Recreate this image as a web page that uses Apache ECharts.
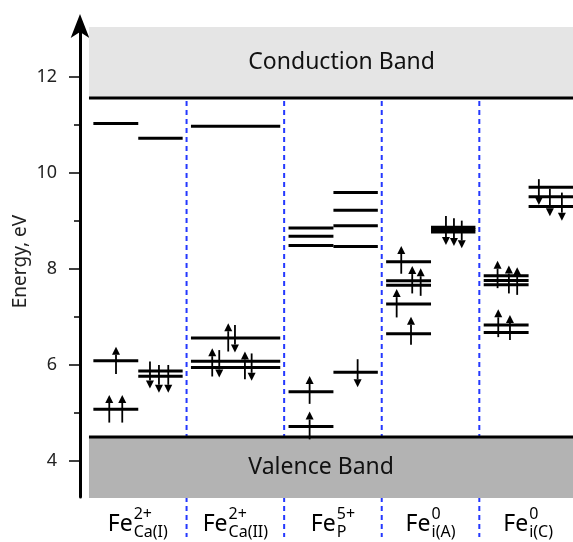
<!DOCTYPE html>
<html><head><meta charset="utf-8">
<script src="https://cdn.jsdelivr.net/npm/echarts@6/dist/echarts.min.js"></script>
<style>html,body{margin:0;padding:0;background:#fff}#c{width:573px;height:542px}</style>
</head><body><div id="c"></div>
<script>
// ---------- data ----------
const element = 'Fe';
const sites = ['Ca(I)', 'Ca(II)', 'P', 'i(A)', 'i(C)'];
const charges = ['2+', '2+', '5+', '0', '0'];
const yTicksMajor = [4, 6, 8, 10, 12];
const yTicksMinor = [5, 7, 9, 11];
const yAxisName = 'Energy, eV';
const bandNames = ['Conduction Band', 'Valence Band'];
const conductionBand = [11.56, 13.04];
const valenceBand = [3.23, 4.50];
const dividers = [1, 2, 3, 4];
// [column index, energy eV]
const levelsLeft = [[0, 11.03], [0, 6.09], [0, 5.08],
  [2, 8.855], [2, 8.68], [2, 8.49], [2, 5.44], [2, 4.72],
  [3, 8.15], [3, 7.755], [3, 7.66], [3, 7.27], [3, 6.65],
  [4, 7.86], [4, 7.76], [4, 7.67], [4, 6.83], [4, 6.675]];
const levelsRight = [[0, 10.72], [0, 5.875], [0, 5.765],
  [2, 9.59], [2, 9.22], [2, 8.90], [2, 8.47], [2, 5.85],
  [3, 8.87], [3, 8.82], [3, 8.77],
  [4, 9.70], [4, 9.505], [4, 9.30]];
const levelsFull = [[1, 10.97], [1, 6.56], [1, 6.08], [1, 5.945]];
// [x (column units), tail eV, tip eV]
const spinUp = [[0.277, 5.81, 6.38], [0.208, 4.80, 5.375], [0.341, 4.80, 5.375],
  [1.427, 6.28, 6.87], [1.263, 5.76, 6.35], [1.598, 5.70, 6.28],
  [2.261, 5.19, 5.77], [2.261, 4.45, 5.03],
  [3.20, 7.90, 8.48], [3.3125, 7.49, 8.06], [3.399, 7.44, 8.015], [3.153, 6.99, 7.58], [3.30, 6.42, 7.006],
  [4.187, 7.60, 8.17], [4.303, 7.49, 8.07], [4.388, 7.46, 8.035], [4.194, 6.58, 7.16], [4.314, 6.52, 7.04]];
const spinDown = [[0.625, 6.07, 5.51], [0.717, 6.00, 5.42], [0.8125, 6.00, 5.42],
  [1.496, 6.83, 6.26], [1.335, 6.31, 5.74], [1.667, 6.24, 5.67],
  [2.753, 6.12, 5.535],
  [3.658, 9.104, 8.50], [3.74, 9.056, 8.48], [3.82, 9.006, 8.43],
  [4.61, 9.87, 9.33], [4.723, 9.67, 9.10], [4.846, 9.59, 9.006]];

// ---------- layout ----------
const X_MIN = -0.092, X_MAX = 4.96, Y_MIN = 3.25, Y_MAX = 13.06;
const LEFT = [0.045, 0.505], RIGHT = [0.505, 0.96], FULL = [0.045, 0.96];
const FONT = 'Noto Sans';
const levelData = []
  .concat(levelsLeft.map(([c, e]) => [c + LEFT[0], c + LEFT[1], e]))
  .concat(levelsRight.map(([c, e]) => [c + RIGHT[0], c + RIGHT[1], e]))
  .concat(levelsFull.map(([c, e]) => [c + FULL[0], c + FULL[1], e]));

const mctx = document.createElement('canvas').getContext('2d');
function tw(text, size) { mctx.font = size + 'px "' + FONT + '"'; return mctx.measureText(text).width; }

function renderLevel(params, api) {
  const a = api.coord([api.value(0), api.value(2)]);
  const b = api.coord([api.value(1), api.value(2)]);
  return { type: 'line', shape: { x1: a[0], y1: a[1], x2: b[0], y2: b[1] }, style: { stroke: '#000', lineWidth: 3 } };
}
function renderArrow(params, api) {
  const t = api.coord([api.value(0), api.value(1)]);
  const h = api.coord([api.value(0), api.value(2)]);
  const dir = h[1] < t[1] ? -1 : 1;
  const hl = 8, hw = 4;
  const by = h[1] - dir * hl;
  return { type: 'group', children: [
    { type: 'line', shape: { x1: t[0], y1: t[1], x2: h[0], y2: by }, style: { stroke: '#000', lineWidth: 1.8 } },
    { type: 'polygon', shape: { points: [[h[0], h[1]], [h[0] - hw, by], [h[0] + hw, by]] }, style: { fill: '#000' } }
  ] };
}
function bandRenderer(fill, edgeIndex, name) {
  return function (params, api) {
    const lo = api.value(0), hi = api.value(1);
    const p0 = api.coord([0, hi]);
    const p1 = api.coord([X_MAX, lo]);
    const e = api.coord([0, edgeIndex === 0 ? lo : hi]);
    const tx = api.coord([1.633, (lo + hi) / 2]);
    return { type: 'group', children: [
      { type: 'rect', shape: { x: p0[0], y: p0[1], width: p1[0] - p0[0], height: p1[1] - p0[1] }, style: { fill: fill } },
      { type: 'line', shape: { x1: e[0], y1: e[1], x2: p1[0], y2: e[1] }, style: { stroke: '#000', lineWidth: 3 } },
      { type: 'text', x: tx[0], y: tx[1], style: { text: name, fontSize: 23, fontFamily: FONT, fill: '#111', align: 'left', verticalAlign: 'middle' } }
    ] };
  };
}
function renderDivider(params, api) {
  const a = api.coord([api.value(0), conductionBand[0]]);
  const b = api.coord([api.value(0), Y_MIN]);
  return { type: 'line', shape: { x1: a[0], y1: a[1] + 3, x2: a[0], y2: b[1] + 40 }, style: { stroke: '#2438ff', lineWidth: 2, lineDash: [5, 4] } };
}
function renderLabel(params, api) {
  const i = params.dataIndex;
  const p = api.coord([api.value(0), Y_MIN]);
  const big = 23, small = 16;
  const wFe = tw(element, big), wSup = tw(charges[i], small), wSub = tw(sites[i], small);
  const W = wFe + 1 + Math.max(wSup, wSub);
  const x0 = p[0] - W / 2;
  const xs = x0 + wFe + 1;
  return { type: 'group', children: [
    { type: 'text', x: x0, y: p[1] + 27, style: { text: element, fontSize: big, fontFamily: FONT, fill: '#000', align: 'left', verticalAlign: 'middle' } },
    { type: 'text', x: xs, y: p[1] + 17, style: { text: charges[i], fontSize: small, fontFamily: FONT, fill: '#000', align: 'left', verticalAlign: 'middle' } },
    { type: 'text', x: xs, y: p[1] + 35, style: { text: sites[i], fontSize: small, fontFamily: FONT, fill: '#000', align: 'left', verticalAlign: 'middle' } }
  ] };
}

const chart = echarts.init(document.getElementById('c'), null, { renderer: 'canvas' });
chart.setOption({
  animation: false,
  grid: { left: 80, right: 0, top: 26, bottom: 45, containLabel: false, outerBoundsMode: 'none' },
  xAxis: { type: 'value', min: X_MIN, max: X_MAX, show: false },
  yAxis: [{
    type: 'value', min: Y_MIN, max: Y_MAX, position: 'left',
    axisLine: { show: true, onZero: false, lineStyle: { color: '#000', width: 3 }, symbol: ['none', 'arrow'], symbolSize: [14, 24], symbolOffset: [0, 12] },
    axisTick: { show: true, customValues: yTicksMajor, length: 11, lineStyle: { color: '#000', width: 1.5 } },
    axisLabel: { customValues: yTicksMajor, margin: 23, fontSize: 18, color: '#222', fontFamily: FONT },
    splitLine: { show: false },
    name: yAxisName, nameLocation: 'middle', nameGap: 50, nameMoveOverlap: false,
    nameTextStyle: { fontSize: 19, color: '#222', fontFamily: FONT }
  }, {
    type: 'value', min: Y_MIN, max: Y_MAX, position: 'left',
    axisLine: { show: false, onZero: false },
    axisTick: { show: true, customValues: yTicksMinor, length: 6, lineStyle: { color: '#000', width: 1.5 } },
    axisLabel: { show: false }, splitLine: { show: false }
  }],
  series: [
    { type: 'custom', clip: false, z: 1, renderItem: renderDivider, data: dividers.map(d => [d]), encode: { x: 0 }, silent: true },
    { type: 'custom', clip: false, z: 2, renderItem: bandRenderer('#e5e5e5', 0, bandNames[0]), data: [conductionBand], encode: { y: [0, 1] }, silent: true },
    { type: 'custom', clip: false, z: 2, renderItem: bandRenderer('#b3b3b3', 1, bandNames[1]), data: [valenceBand], encode: { y: [0, 1] }, silent: true },
    { type: 'custom', clip: false, z: 3, renderItem: renderLevel, data: levelData, encode: { x: [0, 1], y: 2 }, silent: true },
    { type: 'custom', clip: false, z: 4, renderItem: renderArrow, data: spinUp, encode: { x: 0, y: [1, 2] }, silent: true },
    { type: 'custom', clip: false, z: 4, renderItem: renderArrow, data: spinDown, encode: { x: 0, y: [1, 2] }, silent: true },
    { type: 'custom', clip: false, z: 5, renderItem: renderLabel, data: sites.map((s, i) => [i + 0.5]), encode: { x: 0 }, silent: true }
  ]
});
</script></body></html>
